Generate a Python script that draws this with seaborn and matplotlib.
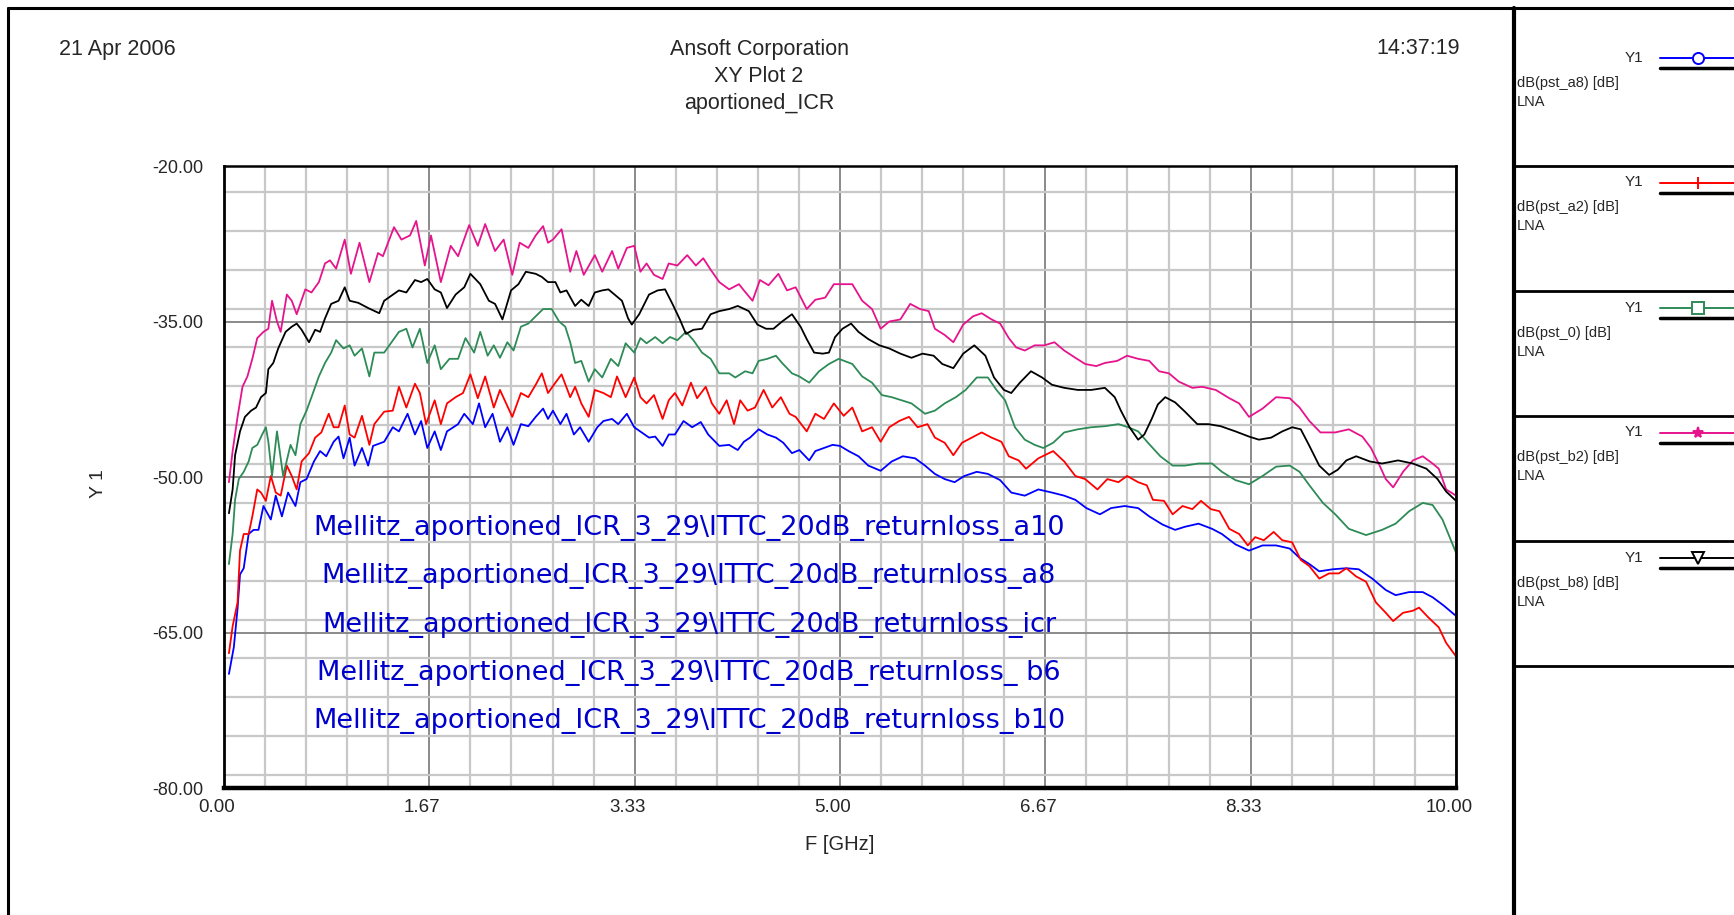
import numpy as np
import pandas as pd
import matplotlib
matplotlib.use("Agg")
import matplotlib.pyplot as plt
import matplotlib.transforms as mtransforms
from matplotlib.ticker import MultipleLocator, FixedLocator
import seaborn as sns

# ---- data (frequency in GHz, level in dB) ----
f_b2 = [0.04, 0.07, 0.11, 0.15, 0.19, 0.23, 0.27, 0.32, 0.36, 0.39, 0.43, 0.46, 0.51, 0.55, 0.59,
        0.66, 0.71, 0.77, 0.82, 0.86, 0.91, 0.98, 1.03, 1.10, 1.18, 1.25, 1.29, 1.38, 1.44, 1.51,
        1.56, 1.63, 1.68, 1.76, 1.84, 1.90, 1.99, 2.06, 2.12, 2.20, 2.27, 2.34, 2.40, 2.47, 2.53,
        2.59, 2.63, 2.67, 2.74, 2.81, 2.86, 2.92, 3.01, 3.07, 3.15, 3.20, 3.27, 3.33, 3.38, 3.43,
        3.49, 3.56, 3.61, 3.68, 3.76, 3.83, 3.89, 3.95, 4.02, 4.10, 4.18, 4.22, 4.29, 4.35, 4.42,
        4.50, 4.57, 4.64, 4.73, 4.80, 4.88, 4.95, 5.02, 5.10, 5.18, 5.26, 5.33, 5.40, 5.49, 5.57,
        5.65, 5.72, 5.77, 5.85, 5.92, 6.00, 6.08, 6.15, 6.23, 6.30, 6.37, 6.43, 6.50, 6.58, 6.66,
        6.74, 6.82, 6.91, 6.99, 7.08, 7.15, 7.25, 7.33, 7.42, 7.51, 7.59, 7.67, 7.75, 7.86, 7.94,
        8.05, 8.16, 8.24, 8.32, 8.43, 8.54, 8.65, 8.73, 8.81, 8.90, 9.02, 9.13, 9.24, 9.31, 9.38,
        9.43, 9.49, 9.57, 9.65, 9.73, 9.81, 9.86, 9.92, 10.0]
db_b2 = [-50.5, -47.5, -44.2, -41.3, -40.3, -38.6, -36.6, -36.0, -35.7, -33.0, -35.0, -36.0, -32.4, -33.0, -34.3,
         -31.9, -32.2, -31.2, -29.4, -29.1, -29.9, -27.1, -30.4, -27.4, -31.2, -28.4, -28.7, -25.9, -27.1, -26.7,
         -25.3, -29.6, -26.7, -31.2, -27.7, -28.7, -25.7, -27.7, -25.6, -28.2, -27.1, -30.5, -27.4, -27.9, -26.7,
         -25.8, -27.4, -27.1, -26.1, -30.2, -28.2, -30.5, -28.6, -30.2, -28.2, -29.9, -27.9, -27.7, -30.2, -29.4,
         -30.5, -30.9, -29.4, -29.6, -28.6, -29.6, -28.9, -30.0, -31.2, -31.9, -31.4, -32.0, -33.0, -31.0, -31.5,
         -30.4, -32.0, -31.7, -33.8, -32.9, -32.7, -31.4, -31.4, -31.4, -33.0, -33.8, -35.7, -35.0, -34.8, -33.3,
         -33.8, -34.0, -35.7, -36.3, -37.0, -35.3, -34.5, -34.2, -34.8, -35.2, -36.6, -37.5, -37.8, -37.3, -37.3,
         -37.0, -37.8, -38.5, -39.1, -39.3, -39.0, -38.8, -38.3, -38.6, -38.8, -39.8, -40.0, -40.8, -41.4, -41.3,
         -41.6, -42.4, -42.9, -44.2, -43.4, -42.3, -42.4, -43.3, -44.6, -45.7, -45.7, -45.4, -46.1, -47.2, -48.9,
         -50.2, -51.0, -49.5, -48.4, -48.0, -48.7, -49.2, -51.2, -51.8]

f_b8 = [0.04, 0.07, 0.09, 0.13, 0.17, 0.22, 0.26, 0.30, 0.34, 0.36, 0.40, 0.44, 0.50, 0.55, 0.59,
        0.63, 0.69, 0.74, 0.78, 0.82, 0.87, 0.93, 0.98, 1.02, 1.09, 1.17, 1.26, 1.30, 1.36, 1.42,
        1.48, 1.55, 1.60, 1.65, 1.71, 1.76, 1.81, 1.88, 1.95, 2.00, 2.08, 2.15, 2.20, 2.26, 2.33,
        2.39, 2.45, 2.53, 2.58, 2.63, 2.69, 2.73, 2.78, 2.85, 2.90, 2.96, 3.01, 3.07, 3.12, 3.18,
        3.23, 3.28, 3.31, 3.37, 3.45, 3.52, 3.58, 3.64, 3.70, 3.75, 3.81, 3.88, 3.95, 4.02, 4.10,
        4.17, 4.26, 4.33, 4.40, 4.46, 4.53, 4.61, 4.68, 4.73, 4.79, 4.86, 4.91, 4.96, 5.02, 5.09,
        5.15, 5.23, 5.32, 5.40, 5.49, 5.58, 5.67, 5.76, 5.83, 5.92, 6.00, 6.09, 6.18, 6.25, 6.33,
        6.39, 6.46, 6.55, 6.64, 6.72, 6.82, 6.93, 7.04, 7.15, 7.23, 7.28, 7.35, 7.42, 7.47, 7.53,
        7.58, 7.64, 7.72, 7.80, 7.90, 7.99, 8.09, 8.21, 8.32, 8.40, 8.50, 8.59, 8.67, 8.74, 8.81,
        8.89, 8.97, 9.04, 9.11, 9.19, 9.30, 9.40, 9.53, 9.65, 9.76, 9.85, 9.92, 10.0]
db_b8 = [-53.5, -51.2, -47.9, -45.6, -44.2, -43.6, -43.3, -42.3, -41.9, -39.6, -39.0, -37.6, -36.0, -35.5, -35.2,
         -35.8, -37.0, -35.8, -36.0, -34.7, -33.3, -33.0, -31.7, -33.0, -33.2, -33.7, -34.2, -33.0, -32.5, -32.0,
         -32.2, -31.0, -31.2, -30.9, -31.9, -32.2, -33.7, -32.4, -31.7, -30.4, -31.4, -33.0, -33.3, -34.8, -32.0,
         -31.4, -30.2, -30.4, -30.7, -31.2, -31.2, -32.2, -32.0, -33.5, -32.9, -33.5, -32.2, -32.0, -31.9, -32.5,
         -33.0, -34.7, -35.3, -34.3, -32.4, -32.0, -31.9, -33.3, -34.8, -36.2, -35.8, -35.7, -34.3, -34.0, -33.8,
         -33.5, -34.0, -35.3, -35.7, -35.7, -35.0, -34.3, -35.5, -36.7, -38.0, -38.1, -38.0, -36.5, -35.7, -35.2,
         -36.0, -36.7, -37.3, -37.6, -38.1, -38.5, -38.1, -38.3, -39.1, -39.5, -38.1, -37.3, -38.3, -40.4, -41.6,
         -41.9, -40.9, -39.8, -40.4, -41.1, -41.4, -41.6, -41.6, -41.4, -42.3, -43.6, -45.2, -46.4, -45.9, -44.4,
         -43.0, -42.3, -42.8, -43.7, -44.9, -44.9, -45.1, -45.6, -46.1, -46.4, -46.2, -45.6, -45.2, -45.4, -47.0,
         -48.9, -49.8, -49.3, -48.4, -48.0, -48.5, -48.7, -48.4, -48.7, -49.2, -50.2, -51.4, -52.3]

f_p0 = [0.04, 0.07, 0.09, 0.12, 0.16, 0.20, 0.23, 0.27, 0.31, 0.34, 0.36, 0.39, 0.43, 0.48, 0.54,
        0.58, 0.62, 0.67, 0.71, 0.77, 0.82, 0.87, 0.91, 0.97, 1.02, 1.06, 1.12, 1.18, 1.22, 1.30,
        1.36, 1.42, 1.48, 1.53, 1.59, 1.65, 1.71, 1.76, 1.83, 1.90, 1.96, 2.03, 2.08, 2.14, 2.19,
        2.24, 2.30, 2.35, 2.41, 2.47, 2.53, 2.59, 2.66, 2.72, 2.77, 2.81, 2.85, 2.90, 2.96, 3.01,
        3.07, 3.14, 3.20, 3.26, 3.33, 3.38, 3.43, 3.50, 3.56, 3.62, 3.68, 3.75, 3.81, 3.88, 3.95,
        4.02, 4.10, 4.15, 4.23, 4.29, 4.34, 4.41, 4.48, 4.53, 4.61, 4.67, 4.75, 4.83, 4.91, 4.99,
        5.10, 5.18, 5.26, 5.34, 5.42, 5.50, 5.58, 5.69, 5.77, 5.85, 5.94, 6.02, 6.11, 6.20, 6.27,
        6.34, 6.42, 6.50, 6.58, 6.65, 6.73, 6.82, 6.93, 7.04, 7.15, 7.26, 7.34, 7.42, 7.50, 7.60,
        7.70, 7.80, 7.91, 8.02, 8.10, 8.21, 8.32, 8.43, 8.54, 8.65, 8.73, 8.81, 8.92, 9.02, 9.13,
        9.27, 9.40, 9.51, 9.62, 9.73, 9.81, 9.89, 10.0]
db_p0 = [-58.4, -55.5, -52.2, -50.2, -49.5, -48.5, -47.2, -46.9, -45.9, -45.2, -46.6, -49.9, -45.6, -49.9, -46.9,
         -47.9, -44.9, -43.6, -42.3, -40.3, -39.0, -38.0, -36.8, -37.6, -37.3, -38.3, -37.6, -40.3, -38.0, -38.0,
         -37.0, -36.0, -35.7, -37.5, -35.7, -39.0, -37.3, -39.6, -38.6, -38.6, -36.6, -38.0, -36.0, -38.3, -37.3,
         -38.5, -37.0, -37.8, -35.5, -35.2, -34.5, -33.8, -33.8, -35.0, -35.5, -37.0, -39.0, -38.8, -40.8, -39.6,
         -40.4, -38.6, -39.3, -37.1, -38.0, -36.6, -37.1, -36.5, -37.1, -36.5, -36.8, -36.0, -36.8, -38.0, -38.6,
         -40.0, -40.0, -40.4, -39.8, -40.0, -38.8, -38.6, -38.3, -39.0, -40.0, -40.3, -40.9, -39.8, -39.1, -38.6,
         -39.1, -40.3, -40.9, -42.1, -42.3, -42.6, -42.9, -43.9, -43.6, -42.9, -42.3, -41.6, -40.4, -40.4, -41.6,
         -42.6, -45.2, -46.4, -46.9, -47.2, -46.7, -45.7, -45.4, -45.2, -45.1, -44.9, -45.2, -45.6, -46.7, -48.0,
         -48.9, -48.9, -48.7, -48.7, -49.5, -50.3, -50.7, -49.9, -49.0, -48.9, -49.5, -50.8, -52.5, -53.6, -55.0,
         -55.6, -55.1, -54.5, -53.3, -52.5, -52.7, -54.1, -57.3]

f_a2 = [0.04, 0.07, 0.11, 0.13, 0.16, 0.20, 0.23, 0.27, 0.30, 0.34, 0.38, 0.42, 0.46, 0.51, 0.55,
        0.59, 0.63, 0.69, 0.74, 0.79, 0.85, 0.89, 0.93, 0.98, 1.02, 1.06, 1.12, 1.18, 1.22, 1.30,
        1.37, 1.42, 1.48, 1.55, 1.59, 1.64, 1.71, 1.76, 1.81, 1.88, 1.94, 2.00, 2.06, 2.12, 2.19,
        2.24, 2.34, 2.41, 2.47, 2.53, 2.58, 2.63, 2.69, 2.74, 2.81, 2.85, 2.90, 2.96, 3.01, 3.08,
        3.14, 3.19, 3.26, 3.33, 3.38, 3.43, 3.49, 3.56, 3.61, 3.66, 3.72, 3.79, 3.84, 3.91, 3.96,
        4.02, 4.08, 4.14, 4.19, 4.25, 4.31, 4.38, 4.45, 4.52, 4.59, 4.64, 4.73, 4.80, 4.87, 4.95,
        5.03, 5.10, 5.18, 5.26, 5.33, 5.40, 5.48, 5.56, 5.63, 5.71, 5.77, 5.85, 5.92, 5.99, 6.07,
        6.15, 6.23, 6.31, 6.37, 6.45, 6.51, 6.61, 6.73, 6.82, 6.91, 6.99, 7.09, 7.17, 7.26, 7.33,
        7.42, 7.49, 7.54, 7.63, 7.70, 7.78, 7.86, 7.93, 8.01, 8.08, 8.16, 8.24, 8.31, 8.37, 8.44,
        8.52, 8.59, 8.67, 8.74, 8.81, 8.89, 8.97, 9.05, 9.11, 9.19, 9.27, 9.35, 9.43, 9.49, 9.57,
        9.65, 9.70, 9.78, 9.86, 9.92, 10.0]
db_a2 = [-67.0, -64.4, -62.1, -57.1, -55.5, -55.5, -53.8, -51.2, -51.5, -52.3, -49.9, -51.5, -51.8, -48.9, -49.9,
         -51.2, -48.5, -47.7, -46.2, -45.7, -43.9, -45.2, -45.2, -43.1, -45.9, -46.2, -44.1, -46.9, -44.9, -43.7,
         -43.6, -41.3, -43.3, -41.0, -41.9, -44.9, -42.6, -44.9, -42.9, -42.3, -41.9, -40.1, -42.4, -40.3, -43.3,
         -41.6, -44.2, -41.9, -42.3, -41.1, -40.0, -41.9, -40.9, -40.1, -42.3, -41.3, -42.9, -44.2, -41.6, -41.9,
         -42.3, -40.3, -42.3, -40.4, -42.3, -42.9, -42.1, -44.4, -42.6, -41.9, -43.1, -40.9, -42.4, -41.3, -42.9,
         -43.9, -42.6, -44.9, -42.6, -43.6, -43.3, -41.6, -43.3, -42.3, -43.9, -44.2, -45.6, -43.9, -44.4, -42.9,
         -44.1, -43.3, -45.6, -45.2, -46.6, -45.2, -44.6, -44.2, -45.2, -44.9, -46.2, -46.7, -47.9, -46.7, -46.2,
         -45.7, -46.2, -46.6, -48.0, -48.4, -49.2, -48.2, -47.5, -48.5, -49.9, -50.2, -51.2, -50.2, -50.5, -49.9,
         -50.5, -50.8, -52.2, -52.3, -53.6, -52.8, -53.1, -52.3, -53.1, -53.3, -55.0, -55.5, -56.6, -55.8, -56.1,
         -55.3, -56.1, -56.3, -58.0, -58.6, -59.8, -59.3, -59.3, -58.8, -59.6, -60.1, -62.1, -63.1, -63.9, -63.1,
         -62.9, -62.6, -63.6, -64.5, -66.0, -67.3]

f_a8 = [0.04, 0.08, 0.11, 0.13, 0.16, 0.20, 0.24, 0.28, 0.32, 0.38, 0.42, 0.47, 0.52, 0.58, 0.62,
        0.67, 0.73, 0.78, 0.83, 0.89, 0.93, 0.97, 1.02, 1.06, 1.12, 1.17, 1.21, 1.30, 1.37, 1.42,
        1.49, 1.55, 1.60, 1.65, 1.71, 1.76, 1.81, 1.90, 1.95, 2.02, 2.07, 2.12, 2.18, 2.24, 2.30,
        2.35, 2.41, 2.47, 2.53, 2.59, 2.63, 2.67, 2.73, 2.78, 2.84, 2.89, 2.96, 3.03, 3.08, 3.15,
        3.20, 3.27, 3.33, 3.39, 3.45, 3.50, 3.56, 3.61, 3.66, 3.73, 3.80, 3.87, 3.93, 4.02, 4.10,
        4.17, 4.22, 4.27, 4.34, 4.41, 4.48, 4.54, 4.61, 4.67, 4.75, 4.80, 4.87, 4.94, 5.00, 5.07,
        5.15, 5.23, 5.33, 5.42, 5.51, 5.61, 5.69, 5.77, 5.85, 5.93, 6.01, 6.11, 6.20, 6.30, 6.39,
        6.50, 6.61, 6.72, 6.82, 6.91, 7.00, 7.11, 7.20, 7.31, 7.42, 7.51, 7.62, 7.72, 7.80, 7.91,
        8.02, 8.10, 8.21, 8.32, 8.43, 8.54, 8.65, 8.73, 8.81, 8.89, 9.00, 9.11, 9.21, 9.32, 9.43,
        9.51, 9.62, 9.73, 9.81, 9.90, 10.0]
db_a8 = [-69.0, -66.4, -62.7, -59.4, -58.8, -55.5, -55.1, -55.1, -52.8, -54.1, -51.8, -53.8, -51.5, -52.8, -50.5,
         -50.2, -48.5, -47.5, -48.0, -46.6, -46.1, -48.2, -46.2, -48.9, -47.2, -48.9, -47.0, -46.6, -45.2, -45.6,
         -43.9, -45.9, -44.6, -47.2, -45.6, -47.4, -45.6, -44.9, -43.9, -44.9, -42.9, -45.2, -43.9, -46.6, -45.2,
         -46.9, -44.9, -45.1, -44.2, -43.4, -44.4, -43.6, -44.9, -43.9, -45.9, -45.2, -46.6, -45.2, -44.6, -44.4,
         -44.9, -43.9, -45.2, -45.7, -46.2, -46.1, -47.0, -45.9, -45.9, -44.6, -45.2, -44.7, -45.9, -47.0, -46.9,
         -47.4, -46.6, -46.2, -45.4, -45.9, -46.2, -46.7, -47.7, -47.4, -48.4, -47.5, -47.2, -46.9, -47.0, -47.5,
         -48.0, -48.9, -49.4, -48.5, -48.0, -48.2, -48.9, -49.7, -50.2, -50.5, -49.9, -49.5, -49.7, -50.3, -51.5,
         -51.8, -51.2, -51.5, -51.8, -52.2, -53.0, -53.6, -53.0, -52.8, -53.0, -53.8, -54.6, -55.1, -54.8, -54.5,
         -55.0, -55.5, -56.5, -57.1, -56.6, -56.6, -56.9, -57.8, -58.4, -59.1, -58.9, -58.8, -58.9, -59.8, -60.9,
         -61.4, -61.1, -61.1, -61.6, -62.4, -63.4]

series_names = ["dB(pst_a8) [dB]", "dB(pst_a2) [dB]", "dB(pst_0) [dB]", "dB(pst_b2) [dB]", "dB(pst_b8) [dB]"]
series_colors = ["#0000ff", "#ff0000", "#2e8b57", "#e6138c", "#000000"]
series_markers = ["o", "|", "s", "*", "v"]

notes = [r"Mellitz_aportioned_ICR_3_29\ITTC_20dB_returnloss_a10",
         r"Mellitz_aportioned_ICR_3_29\ITTC_20dB_returnloss_a8",
         r"Mellitz_aportioned_ICR_3_29\ITTC_20dB_returnloss_icr",
         r"Mellitz_aportioned_ICR_3_29\ITTC_20dB_returnloss_ b6",
         r"Mellitz_aportioned_ICR_3_29\ITTC_20dB_returnloss_b10"]

x_ticks = [0.0, 10 / 6, 20 / 6, 5.0, 40 / 6, 50 / 6, 10.0]
x_tick_labels = ["0.00", "1.67", "3.33", "5.00", "6.67", "8.33", "10.00"]
y_ticks = [-80, -65, -50, -35, -20]
y_tick_labels = ["-80.00", "-65.00", "-50.00", "-35.00", "-20.00"]

frames = []
for name, f, v in [("a8", f_a8, db_a8), ("a2", f_a2, db_a2), ("0", f_p0, db_p0),
                   ("b2", f_b2, db_b2), ("b8", f_b8, db_b8)]:
    frames.append(pd.DataFrame({"F": f, "dB": v, "trace": name}))
df = pd.concat(frames, ignore_index=True)
trace_order = ["a8", "a2", "0", "b2", "b8"]

# ---- style ----
sns.set_style("white")
plt.rcParams["font.family"] = ["Liberation Sans", "DejaVu Sans"]

W, H = 1734, 915
fig = plt.figure(figsize=(W / 100, H / 100), dpi=100)
fig.patch.set_facecolor("white")

# pixel overlay for frame and legend panel
bg = fig.add_axes([0, 0, 1, 1])
bg.set_xlim(0, W)
bg.set_ylim(H, 0)
bg.axis("off")

L, R, T, B = 224, 1456, 166, 788
ax = fig.add_axes([L / W, 1 - B / H, (R - L) / W, (B - T) / H])

for tr, col in zip(trace_order, series_colors):
    sns.lineplot(data=df[df["trace"] == tr], x="F", y="dB", color=col, lw=1.3,
                 estimator=None, sort=False, ax=ax, legend=False)

ax.set_xlim(0, 10)
ax.set_ylim(-80, -20)
ax.xaxis.set_major_locator(FixedLocator(x_ticks))
ax.xaxis.set_minor_locator(MultipleLocator(1 / 3))
ax.yaxis.set_major_locator(FixedLocator(y_ticks))
ax.yaxis.set_minor_locator(MultipleLocator(3.75))
ax.set_xticklabels(x_tick_labels)
ax.set_yticklabels(y_tick_labels)
ax.set_axisbelow(True)
ax.grid(which="minor", color="#c8c8c8", lw=1.6)
ax.grid(which="major", color="#8a8a8a", lw=1.4)

ax.tick_params(axis="y", which="major", direction="out", length=13, width=1.4, pad=2, labelsize=13)
ax.tick_params(axis="y", which="minor", direction="out", length=4.5, width=1.4)
ax.tick_params(axis="x", which="major", direction="out", length=5, width=1.4, pad=3, labelsize=13.5)
ax.tick_params(axis="x", which="minor", direction="out", length=3.5, width=1.4)
shift = mtransforms.ScaledTranslation(-7 / 100, 0, fig.dpi_scale_trans)
for lab in ax.get_xticklabels():
    lab.set_transform(lab.get_transform() + shift)

for side, lw in [("left", 2.0), ("bottom", 3.2), ("top", 1.8), ("right", 2.0)]:
    ax.spines[side].set_color("black")
    ax.spines[side].set_linewidth(lw)

ax.set_xlabel("F [GHz]", fontsize=14.5)
ax.set_ylabel("Y 1", fontsize=14)
ax.xaxis.set_label_coords(0.5, -0.076)
ax.yaxis.set_label_coords(-0.095, 0.49)

# annotation text inside the plot
for i, t in enumerate(notes):
    ax.text(689, 528 + 48.3 * i, t, transform=bg.transData, ha="center", va="center",
            fontsize=19.5, color="#0000cc", family="DejaVu Sans")

# header texts
bg.text(59, 49, "21 Apr 2006", fontsize=15.5, ha="left", va="center")
bg.text(759, 49, "Ansoft Corporation", fontsize=15.5, ha="center", va="center")
bg.text(759, 77, "XY Plot 2", fontsize=15.5, ha="center", va="center")
bg.text(759, 104, "aportioned_ICR", fontsize=15.5, ha="center", va="center")
bg.text(1460, 49, "14:37:19", fontsize=15.5, ha="right", va="center")

# outer frame
bg.plot([8, W], [8, 8], color="black", lw=2.2)
bg.plot([8, 8], [8, H], color="black", lw=2.2)
bg.plot([1514, 1514], [8, H], color="black", lw=3.0)

# legend panel
for i, (nm, col, mk) in enumerate(zip(series_names, series_colors, series_markers)):
    yb = 57.5 + 125 * i
    bg.text(1643, yb, "Y1", fontsize=11, ha="right", va="center")
    bg.plot([1660, W], [yb, yb], color=col, lw=1.4)
    mfc = col if mk in ("|", "*") else "white"
    bg.plot([1698], [yb], marker=mk, color=col, mfc=mfc, ms=8, mew=1.4)
    bg.plot([1660, W], [yb + 10, yb + 10], color="black", lw=2.5)
    bg.text(1517, yb + 25, nm, fontsize=10.5, ha="left", va="center")
    bg.text(1517, yb + 44, "LNA", fontsize=10.5, ha="left", va="center")
    bg.plot([1514, W], [166 + 125 * i, 166 + 125 * i], color="black", lw=2.0)

fig.savefig("out.png", dpi=100, facecolor="white")
